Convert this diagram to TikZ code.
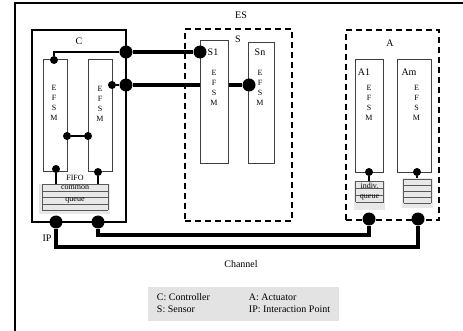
\documentclass[tikz,border=0pt]{standalone}
\usepackage{fontspec}
\setmainfont{Liberation Serif}
\begin{document}
\begin{tikzpicture}[x=1pt, y=-1pt,
        outline/.style={line width=2pt},
        box/.style={draw, line width=1.3pt, rectangle, inner sep=0pt},
        group/.style={draw, line width=1.8pt, dash pattern=on 6pt off 4pt, rectangle, inner sep=0pt},
        efsm/.style={draw=black!75, fill=white, line width=1pt, rectangle, inner sep=0pt},
        queue/.style={fill=gray!18, rectangle, inner sep=0pt},
        stripe/.style={draw=black!65, line width=0.9pt},
        letters/.style={align=center, font=\fontsize{8}{10}\selectfont, inner sep=0pt},
        tag/.style={font=\fontsize{10}{12}\selectfont, inner sep=0pt},
        note/.style={font=\fontsize{8}{9}\selectfont, inner sep=0pt},
        bigdot/.style={circle, fill=black, minimum size=13pt, inner sep=0pt},
        smalldot/.style={circle, fill=black, minimum size=8pt, inner sep=0pt},
        wire/.style={draw, line width=1.2pt},
        link/.style={draw, line width=4pt},
        legend/.style={fill=gray!22, font=\fontsize{10}{12}\selectfont, inner sep=0pt}
    ]
        \useasboundingbox (0,0) rectangle (463,331);

        % Frame
        \draw[outline] (14.5,331) -- (14.5,2.7) -- (463,2.7);
        \node[tag] (es) at (241,15) {ES};

        % Groups
        \node[box, minimum width=94pt, minimum height=192pt] (ctrl) at (79,126) {};
        \node[group, minimum width=107pt, minimum height=192pt] (sens) at (238.5,125) {};
        \node[group, minimum width=93pt, minimum height=190pt] (act) at (392.5,125) {};
        \node[tag] (ctag) at (79,41) {C};
        \node[tag] (stag) at (238,39) {S};
        \node[tag] (atag) at (390,43) {A};

        % EFSMs
        \node[efsm, minimum width=24pt, minimum height=112pt] (c1) at (55,116) {};
        \node[efsm, minimum width=24pt, minimum height=112pt] (c2) at (100,116) {};
        \node[efsm, minimum width=28pt, minimum height=123pt] (s1) at (214,102.5) {};
        \node[efsm, minimum width=26pt, minimum height=121pt] (sn) at (261,103.5) {};
        \node[efsm, minimum width=28pt, minimum height=113pt] (a1) at (369,116.5) {};
        \node[efsm, minimum width=34pt, minimum height=113pt] (am) at (414,116.5) {};
        \foreach \m/\x/\y in {c1/54/103, c2/100/104, s1/214/88, sn/260/88, a1/369/103, am/416.5/103}
            \node[letters] (\m-efsm) at (\x,\y) {E\\F\\S\\M};
        \node[tag] (s1tag) at (213,52) {S1};
        \node[tag] (sntag) at (260,52) {Sn};
        \node[tag] (a1tag) at (364,72) {A1};
        \node[tag] (amtag) at (409,72) {Am};

        % Queues
        \node[queue, minimum width=71pt, minimum height=30pt] (cq) at (74.5,199) {};
        \foreach \y in {184,191,197,204,210}
            \draw[stripe] (42,\y) -- (108,\y);
        \draw[stripe] (42,184) -- (42,210) (108,184) -- (108,210);
        \node[note] (fifo) at (75,178) {FIFO};
        \node[note] (cqa) at (75,188) {common};
        \node[note] (cqb) at (75,200) {queue};

        \node[queue, minimum width=31pt, minimum height=29pt] (a1q) at (369.5,195.5) {};
        \foreach \y in {181,188,195,202}
            \draw[stripe] (355.5,\y) -- (383.5,\y);
        \draw[stripe] (355.5,181) -- (355.5,202) (383.5,181) -- (383.5,202);
        \node[note] (a1qa) at (369.5,186) {indiv.};
        \node[note] (a1qb) at (369.5,197.5) {queue};

        \node[queue, minimum width=31pt, minimum height=30pt] (amq) at (417.5,193) {};
        \foreach \y in {179,185,191,197,203}
            \draw[stripe] (403.5,\y) -- (431,\y);
        \draw[stripe] (403.5,179) -- (403.5,203) (431,179) -- (431,203);

        % Interaction points
        \node[bigdot] (ipa) at (126,52) {};
        \node[bigdot] (ipb) at (126,85) {};
        \node[bigdot] (ipc) at (56,222) {};
        \node[bigdot] (ipd) at (98,222) {};
        \node[bigdot] (s1ip) at (200,52) {};
        \node[bigdot] (snip) at (249,85) {};
        \node[bigdot] (a1ip) at (369,219) {};
        \node[bigdot] (amip) at (418,219) {};
        \node[smalldot] (cd1) at (54,60) {};
        \node[smalldot] (cd2) at (112,85) {};
        \node[smalldot] (cm1) at (67,136) {};
        \node[smalldot] (cm2) at (88,136) {};
        \node[smalldot] (cb1) at (56,169) {};
        \node[smalldot] (cb2) at (98,172) {};
        \node[smalldot] (a1d) at (369,172) {};
        \node[smalldot] (amd) at (417,172) {};
        \node[tag] (iptag) at (47,238) {IP};
        \node[tag] (chan) at (241,264) {Channel};

        % Connections
        \draw[wire] (cd1) |- (ipa);
        \draw[wire] (cd2) -- (ipb);
        \draw[wire] (cm1) -- (cm2);
        \draw[wire] (cb1) -- (cb1 |- cq.north);
        \draw[wire] (cb2) -- (cb2 |- cq.north);
        \draw[wire] (a1d) -- (a1d |- a1q.north);
        \draw[wire] (amd) -- (amd |- amq.north);
        \draw[link] (ipa) -- (s1ip);
        \draw[link] (ipb) -- (ipb -| s1.west);
        \draw[link] (ipb -| s1.east) -- (snip);
        \draw[link] (ipd) -- ++(0,13) -| (a1ip);
        \draw[link] (ipc) -- ++(0,25) -| (amip);

        % Legend
        \node[legend, minimum width=191pt, minimum height=34pt] (key) at (243.5,304)
            {\begin{tabular}{@{}p{92pt}@{}l@{}}C: Controller & A: Actuator\\S: Sensor & IP: Interaction Point\end{tabular}};
    \end{tikzpicture}
\end{document}
